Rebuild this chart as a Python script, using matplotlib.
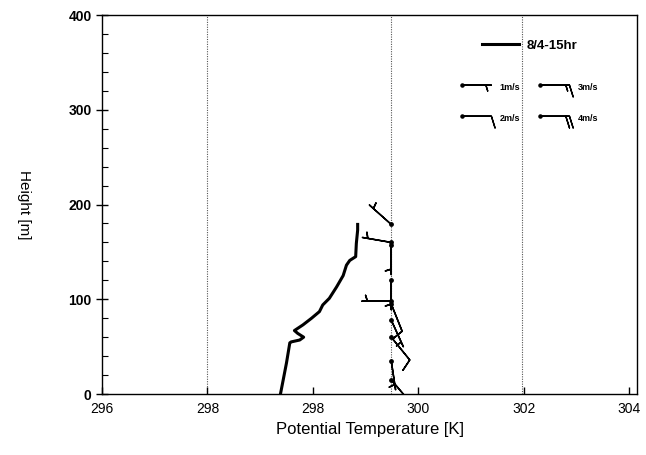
import numpy as np
import matplotlib
matplotlib.use("Agg")
import matplotlib.pyplot as plt

plt.rcParams['font.family'] = ['Liberation Sans', 'DejaVu Sans']

# potential temperature profile
theta = [298.71, 298.75, 298.80, 298.85, 298.87, 299.00, 299.06, 298.97, 298.92,
         299.05, 299.18, 299.30, 299.35, 299.45, 299.56, 299.66, 299.71, 299.76,
         299.85, 299.86, 299.88, 299.88]
height = [0.7, 15, 33, 54, 55, 57, 60, 64, 67, 73, 80, 87, 94, 101, 113, 125,
          136, 141, 145, 159, 173, 179]

# wind barbs: height, staff direction (screen dx, dy), speed
barb_h = [179, 160, 157, 120, 98, 95, 78, 60, 35, 15]
barb_dx = [-18, -29, 0, 0, -16, 8, 10, 13, 3, 11]
barb_dy = [16, 5, -20, -20, 0, -20, -22, -16, -20, -13]
barb_spd = [1, 1, 1, 1, 1, 2, 1, 2, 1, 1]
barb_x = 300.39

xticks = [296, 297.6, 299.2, 300.8, 302.4, 304]
xtick_labels = ['296', '298', '298', '300', '302', '304']
yticks = [0, 100, 200, 300, 400]
grid_x = [297.59, 300.39, 302.38]

legend_spd = [1, 3, 2, 4]
legend_lbl = ['1m/s', '3m/s', '2m/s', '4m/s']

fig = plt.figure(figsize=(6.46, 4.55), dpi=100)
ax = fig.add_axes([0.158, 0.134, 0.828, 0.833])

for gx in grid_x:
    ax.axvline(gx, color='#555555', lw=0.8, ls=(0, (1, 1.2)), zorder=1)

ax.plot(theta, height, color='black', lw=2.2, label='8/4-15hr', zorder=3)

dx = np.array(barb_dx, float)
dy = np.array(barb_dy, float)
nrm = np.hypot(dx, dy)
spd = np.array(barb_spd, float)
u = -dx / nrm * spd
v = -dy / nrm * spd
bx = np.full(len(barb_h), barb_x)
ax.barbs(bx, barb_h, u, v, length=6.5, pivot='tip', color='black', lw=1.1,
         barb_increments=dict(half=1, full=2, flag=10), zorder=4)
ax.scatter(bx, barb_h, s=6, color='black', zorder=5)

# barb key
kx = [0.673, 0.819, 0.673, 0.819]
ky = [0.815, 0.815, 0.733, 0.733]
ku = [-s for s in legend_spd]
kv = [0, 0, 0, 0]
ax.barbs(kx, ky, ku, kv, transform=ax.transAxes, length=6.5, pivot='tip',
         color='black', lw=1.0, barb_increments=dict(half=1, full=2, flag=10),
         zorder=4)
ax.scatter(kx, ky, s=5, color='black', transform=ax.transAxes, zorder=5)
for x0, y0, t in zip(kx, ky, legend_lbl):
    ax.text(x0 + 0.07, y0 - 0.005, t, transform=ax.transAxes, fontsize=6.5,
            fontweight='bold', va='center', ha='left')

ax.legend(loc='upper left', bbox_to_anchor=(0.71, 0.935), frameon=False,
          prop=dict(size=9.5, weight='bold'), handlelength=2.8,
          handletextpad=0.6, borderaxespad=0, borderpad=0)

ax.set_xlim(296, 304.12)
ax.set_ylim(0, 400)
ax.set_xticks(xticks)
ax.set_xticklabels(xtick_labels, fontsize=10)
ax.set_yticks(yticks)
ax.set_yticklabels([str(t) for t in yticks], fontsize=10, fontweight='bold')
ax.set_yticks(np.arange(0, 401, 20), minor=True)
ax.tick_params(axis='y', which='major', direction='inout', length=8, width=1)
ax.tick_params(axis='y', which='minor', direction='in', length=4, width=0.8)
ax.tick_params(axis='x', which='major', direction='in', length=5, width=1, pad=6)
ax.set_xlabel('Potential Temperature [K]', fontsize=12, labelpad=4)
ax.set_ylabel('Height [m]', fontsize=11, rotation=270, labelpad=37)
for s in ax.spines.values():
    s.set_linewidth(1.0)

fig.savefig('out.png', dpi=100)
